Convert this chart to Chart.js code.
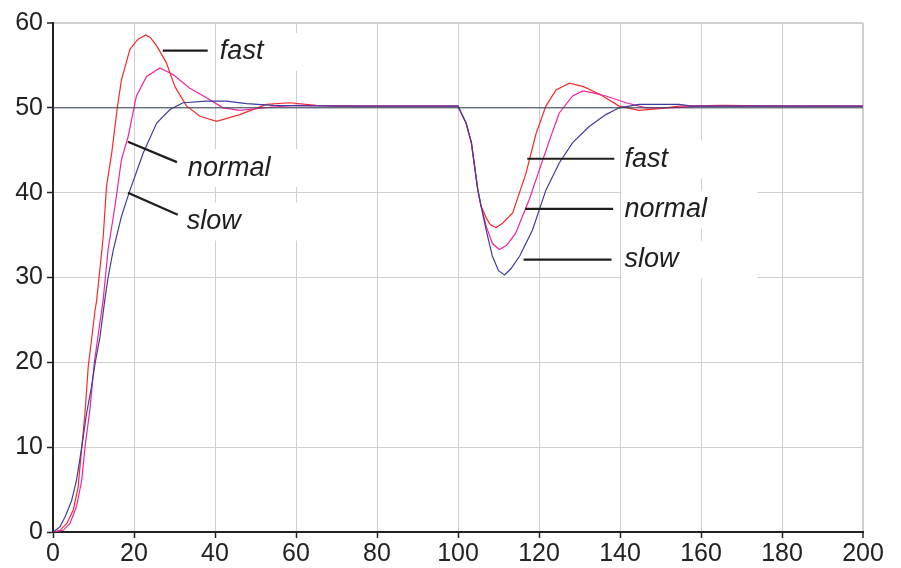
<!DOCTYPE html>
<html>
<head>
<meta charset="utf-8">
<script src="https://cdn.jsdelivr.net/npm/chart.js@4"></script>
<style>
  html, body { margin: 0; padding: 0; background: #fff; }
</style>
</head>
<body>
<canvas id="chart" width="901" height="568"></canvas>
<script>
// step response, three controller tunings

const fastX = [0, 1.7, 3.4, 5, 6.2, 7.1, 7.9, 8.7, 9.5, 10.4, 10.8, 12.4, 13.2, 14.5, 15.9, 16.9, 19, 21, 22.9, 24, 25.6, 28, 30.1, 33, 36.3, 40.4, 46.1, 52.7, 58.4, 65, 75, 100, 102, 103.3, 104.1, 104.9, 105.7, 107, 108, 109.4, 111, 113.5, 116.8, 119.3, 121.7, 124.2, 127.5, 131, 135, 139.8, 144.7, 149.7, 154.6, 165, 185, 200];
const fastY = [0, 0.2, 1, 2.6, 5.3, 10, 14, 19.5, 22.6, 26.2, 27.4, 34.8, 40.7, 44.7, 50.1, 53.3, 56.9, 58.1, 58.6, 58.3, 57.3, 55.3, 52.5, 50.2, 49, 48.4, 49.2, 50.4, 50.6, 50.3, 50.2, 50.2, 48.2, 45.9, 43.1, 40.3, 38.4, 37, 36.2, 35.9, 36.4, 37.6, 42.3, 47, 50.2, 52.1, 52.9, 52.5, 51.6, 50.2, 49.7, 49.9, 50.2, 50.3, 50.2, 50.2];

const normalX = [0, 2.5, 4.2, 5.8, 7.1, 7.9, 9.1, 10.2, 11.2, 12.4, 13.6, 15.3, 16.9, 18.5, 20.6, 23.1, 26.4, 29.7, 33.8, 37.9, 42, 46.1, 54.3, 60, 75, 100, 102, 103.3, 104.1, 104.9, 105.7, 107, 108.5, 110.2, 112, 114.2, 117.6, 120.1, 122.6, 125, 128.3, 130.8, 133, 136.5, 141.5, 146.4, 152, 160, 200];
const normalY = [0, 0.2, 1, 3, 6.1, 10, 14.4, 19.9, 23.4, 27.4, 33.3, 38.4, 43.9, 46.5, 51.4, 53.7, 54.7, 53.9, 52.3, 51.2, 50, 49.7, 50.1, 50.3, 50.2, 50.2, 48.2, 45.9, 43.1, 40.3, 38.4, 36, 34, 33.3, 33.8, 35.2, 39.2, 42.7, 46.2, 49.4, 51.4, 52, 51.8, 51.4, 50.6, 50, 50, 50.2, 50.2];

const slowX = [0, 1.7, 3, 4.6, 5.8, 7.1, 8.3, 9.5, 10.4, 11.6, 12.8, 13.6, 14.9, 16.9, 18.8, 22.3, 25.6, 28.9, 32.1, 37.9, 42.8, 47.8, 54.3, 70, 100, 102, 103.3, 104.1, 104.9, 105.7, 107, 108.5, 110, 111.5, 113, 115.2, 118.4, 121.7, 125, 128.3, 132.4, 136.5, 139.8, 144.7, 154.6, 157.8, 200];
const slowY = [0, 0.6, 1.8, 3.7, 6.1, 10, 14, 17.1, 19.9, 23, 27.4, 30, 33.3, 37.2, 40, 44.7, 48.2, 49.8, 50.6, 50.8, 50.8, 50.5, 50.3, 50.2, 50.2, 48.2, 45.9, 43.1, 40.3, 38.4, 35.5, 32.5, 30.8, 30.3, 31, 32.5, 35.6, 40.3, 43.5, 45.9, 47.8, 49.2, 50, 50.4, 50.4, 50.2, 50.2];

const setpointX = [0, 200];
const setpointY = [50, 50];

const xTicks = [0, 20, 40, 60, 80, 100, 120, 140, 160, 180, 200];
const yTicks = [0, 10, 20, 30, 40, 50, 60];

const labelNames = ["fast", "normal", "slow", "fast", "normal", "slow"];

function pts(xs, ys) {
    return xs.map((x, i) => ({ x: x, y: ys[i] }));
}

// leader lines and label anchors, in data units
const notes = [
    { from: [27.1, 56.75], to: [38.2, 56.75], at: [41.2, 56.6] },
    { from: [18.5, 46.0], to: [30.6, 43.6], at: [33.3, 42.9] },
    { from: [18.5, 40.0], to: [30.8, 37.4], at: [33.0, 36.6] },
    { from: [117.1, 44.0], to: [138.6, 44.0], at: [141.1, 43.9] },
    { from: [116.6, 38.1], to: [138.3, 38.1], at: [141.1, 38.0] },
    { from: [116.2, 32.1], to: [137.9, 32.1], at: [141.1, 32.1] }
];

const labelsPlugin = {
    id: "labels",
    beforeDatasetsDraw(chart) {
        const { ctx, scales: { x, y } } = chart;
        ctx.save();
        ctx.fillStyle = "#ffffff";
        notes.forEach(n => {
            const px = x.getPixelForValue(n.at[0]);
            const py = y.getPixelForValue(n.at[1]);
            ctx.fillRect(px - 3, py - 19, 136, 38);
        });
        ctx.restore();
    },
    afterDatasetsDraw(chart) {
        const { ctx, scales: { x, y } } = chart;
        ctx.save();
        ctx.strokeStyle = "#1e1e1e";
        ctx.lineWidth = 2.2;
        ctx.fillStyle = "#1e1e1e";
        ctx.font = 'italic 27px "Liberation Sans", Arial, sans-serif';
        ctx.textBaseline = "middle";
        ctx.textAlign = "left";
        notes.forEach((n, i) => {
            ctx.beginPath();
            ctx.moveTo(x.getPixelForValue(n.from[0]), y.getPixelForValue(n.from[1]));
            ctx.lineTo(x.getPixelForValue(n.to[0]), y.getPixelForValue(n.to[1]));
            ctx.stroke();
            ctx.fillText(labelNames[i], x.getPixelForValue(n.at[0]), y.getPixelForValue(n.at[1]));
        });
        ctx.restore();
    }
};

const tickFont = { family: '"Liberation Sans", Arial, sans-serif', size: 25 };

new Chart(document.getElementById("chart"), {
    type: "scatter",
    data: {
        datasets: [
            { label: "setpoint", data: pts(setpointX, setpointY), borderColor: "#34414f", borderWidth: 1 },
            { label: "slow", data: pts(slowX, slowY), borderColor: "#3d3d9e", borderWidth: 1.2 },
            { label: "normal", data: pts(normalX, normalY), borderColor: "#f0249a", borderWidth: 1.2 },
            { label: "fast", data: pts(fastX, fastY), borderColor: "#f52a2a", borderWidth: 1.2 }
        ]
    },
    options: {
        responsive: false,
        animation: false,
        showLine: true,
        elements: { point: { radius: 0 }, line: { tension: 0 } },
        layout: { padding: { top: 23, right: 38, left: 0, bottom: 0 } },
        plugins: { legend: { display: false }, tooltip: { enabled: false } },
        scales: {
            x: {
                type: "linear",
                min: 0,
                max: 200,
                afterBuildTicks: s => { s.ticks = xTicks.map(v => ({ value: v })); },
                afterFit: s => { s.height = 36; },
                grid: {
                    color: "#cfcfcf",
                    lineWidth: c => (c.tick && c.tick.value === 200 ? 2 : 1),
                    tickColor: "#222",
                    tickLength: 6,
                    tickWidth: 1.5
                },
                border: { color: "#222", width: 2 },
                ticks: { color: "#222", font: tickFont, padding: 1, maxRotation: 0 }
            },
            y: {
                min: 0,
                max: 60,
                afterBuildTicks: s => { s.ticks = yTicks.map(v => ({ value: v })); },
                afterFit: s => { s.width = 53; },
                grid: {
                    color: "#cfcfcf",
                    lineWidth: c => (c.tick && c.tick.value === 60 ? 2 : 1),
                    tickColor: "#222",
                    tickLength: 6,
                    tickWidth: 1.5
                },
                border: { color: "#222", width: 2 },
                ticks: { color: "#222", font: tickFont, padding: 4 }
            }
        }
    },
    plugins: [labelsPlugin]
});
</script>
</body>
</html>
